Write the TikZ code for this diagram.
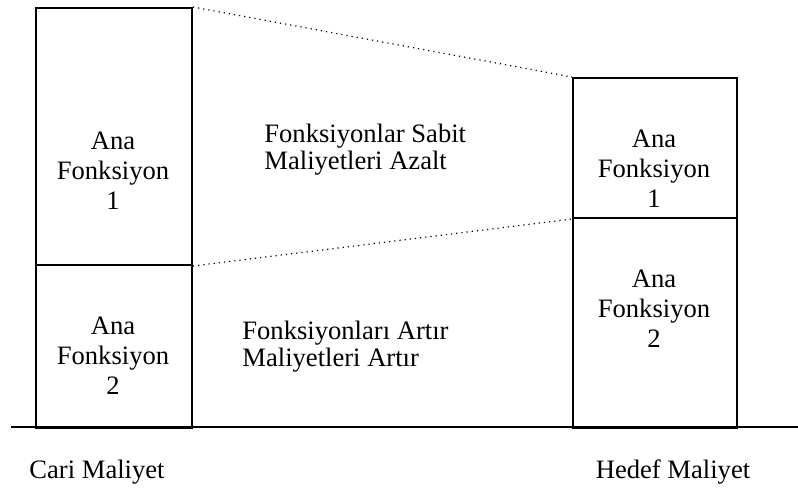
\documentclass[tikz,border=0pt]{standalone}
\usepackage{fontspec}
\setmainfont{Liberation Serif}
\begin{document}
\begin{tikzpicture}[x=0.5pt,y=-0.5pt,
  box/.style={draw,line width=1pt,rectangle,inner sep=0pt,anchor=north west},
  lbl/.style={align=center,inner sep=0pt,font=\fontsize{13.3}{15}\selectfont},
  side/.style={align=left,inner sep=0pt,anchor=west,font=\fontsize{13.3}{13.5}\selectfont},
  link/.style={dotted,line width=0.6pt}]
\useasboundingbox (0,0) rectangle (798,488);
% bars of the two cost columns
\node[box,minimum width=78pt,minimum height=128.5pt] (l1) at (35,7) {};
\node[box,minimum width=78pt,minimum height=81.5pt] (l2) at (35,264) {};
\node[box,minimum width=82pt,minimum height=70pt] (r1) at (572,77) {};
\node[box,minimum width=82pt,minimum height=105pt] (r2) at (572,217) {};
% ground line
\coordinate (g0) at (11,427);
\coordinate (g1) at (798,427);
\draw[line width=1pt] (g0) -- (g1);
% dotted links between matching functions
\draw[link] (l1.north east) -- (r1.north west);
\draw[link] (l1.south east) -- (r1.south west);
% labels inside the bars
\node[lbl] (t1) at (113,171) {Ana\\Fonksiyon\\1};
\node[lbl] (t2) at (113,356) {Ana\\Fonksiyon\\2};
\node[lbl] (t3) at (654,169) {Ana\\Fonksiyon\\1};
\node[lbl] (t4) at (654,309) {Ana\\Fonksiyon\\2};
% explanations between the columns
\node[side] (s1) at (264,150) {Fonksiyonlar Sabit\\Maliyetleri Azalt};
\node[side] (s2) at (242,347) {Fonksiyonları Artır\\Maliyetleri Artır};
% column captions
\node[lbl] (c1) at (97,472) {Cari Maliyet};
\node[lbl] (c2) at (673,472) {Hedef Maliyet};
\end{tikzpicture}
\end{document}
